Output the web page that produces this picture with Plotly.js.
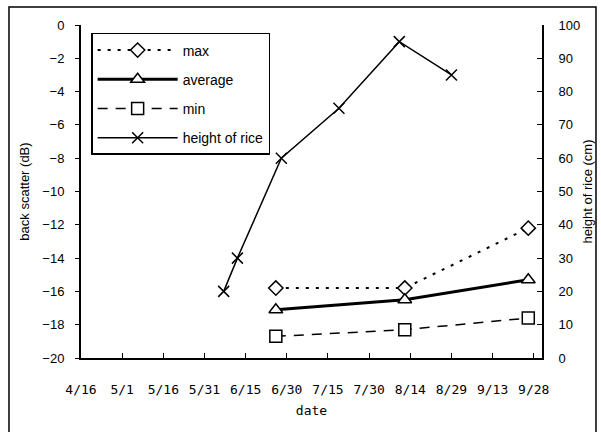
<!DOCTYPE html>
<html><head><meta charset="utf-8">
<script src="https://cdn.plot.ly/plotly-3.0.1.min.js"></script>
<style>html,body{margin:0;padding:0;background:#fff;}</style>
</head><body><div id="chart" style="width:601px;height:432px;"></div>
<script>
const scatterDates = ['2000-06-26', '2000-08-12', '2000-09-26'];
const maxValues = [-15.8, -15.8, -12.2];
const avgValues = [-17.1, -16.5, -15.3];
const minValues = [-18.7, -18.3, -17.6];
const heightDates = ['2000-06-07', '2000-06-12', '2000-06-28', '2000-07-19', '2000-08-10', '2000-08-29'];
const heightValues = [20, 30, 60, 75, 95, 85];
const seriesNames = ['max', 'average', 'min', 'height of rice'];

const mk = (sym, size) => ({symbol: sym, size: size, color: 'white', line: {color: 'black', width: 1.5}});
const traces = [
  {x: scatterDates, y: maxValues, name: seriesNames[0], mode: 'lines+markers', legendgroup: 'a',
   line: {color: 'black', width: 2, dash: '3px,7px'}, marker: mk('diamond', 11)},
  {x: scatterDates, y: avgValues, name: seriesNames[1], mode: 'lines+markers', legendgroup: 'b',
   line: {color: 'black', width: 3}, marker: mk('triangle-up', 12)},
  {x: scatterDates, y: minValues, name: seriesNames[2], mode: 'lines+markers', legendgroup: 'c',
   line: {color: 'black', width: 1.5, dash: '10px,8px'}, marker: mk('square', 12)},
  {x: heightDates, y: heightValues, name: seriesNames[3], mode: 'lines+markers', yaxis: 'y2', legendgroup: 'd',
   line: {color: 'black', width: 1.5}, marker: {symbol: 'x-thin', size: 11, color: 'black', line: {color: 'black', width: 1.5}}}
];

const tickFont = {family: 'Liberation Sans, Arial, sans-serif', size: 13, color: 'black'};
const monoFont = 'DejaVu Sans Mono, monospace';
const layout = {
  width: 601, height: 432,
  margin: {l: 81, r: 59, t: 25, b: 74},
  paper_bgcolor: 'white', plot_bgcolor: 'white',
  showlegend: true,
  font: {family: 'Liberation Sans, Arial, sans-serif', size: 12, color: 'black'},
  xaxis: {
    type: 'date', range: ['2000-04-16', '2000-10-01'],
    tick0: '2000-04-16', dtick: 15 * 86400000, tickformat: '%-m/%-d',
    showgrid: false, zeroline: false, showline: true, linecolor: 'black', linewidth: 2,
    ticks: 'inside', ticklen: 5, tickcolor: 'black', tickwidth: 1,
    tickfont: {family: monoFont, size: 13, color: 'black'},
    ticklabelstandoff: 18,
    title: {text: 'date', font: {family: monoFont, size: 13}, standoff: 10}
  },
  yaxis: {
    range: [-20, 0], dtick: 2, showgrid: false, zeroline: false,
    showline: true, linecolor: 'black', linewidth: 2,
    ticks: 'outside', ticklen: 4, tickcolor: 'black', tickwidth: 1,
    tickfont: tickFont, ticklabelstandoff: 8,
    title: {text: 'back scatter (dB)', font: {size: 13}, standoff: 10}
  },
  yaxis2: {
    overlaying: 'y', side: 'right', range: [0, 100], dtick: 10,
    showgrid: false, zeroline: false, showline: true, linecolor: 'black', linewidth: 2,
    ticks: 'inside', ticklen: 5, tickcolor: 'black', tickwidth: 1,
    tickfont: tickFont, ticklabelstandoff: 12,
    title: {text: 'height of rice (cm)', font: {size: 13}, standoff: 4}
  },
  legend: {
    x: 0.022, y: 0.976, xanchor: 'left', yanchor: 'top',
    bgcolor: 'white', bordercolor: 'black', borderwidth: 1.5,
    font: {size: 14}, tracegroupgap: 8, itemwidth: 80, traceorder: 'grouped'
  },
  shapes: [{type: 'rect', xref: 'paper', yref: 'paper', x0: -0.1562, x1: 1.1171, y0: -0.25, y1: 1.054,
            line: {color: 'black', width: 1.5}, layer: 'below'}]
};
Plotly.newPlot('chart', traces, layout, {displayModeBar: false, staticPlot: true});
</script></body></html>
